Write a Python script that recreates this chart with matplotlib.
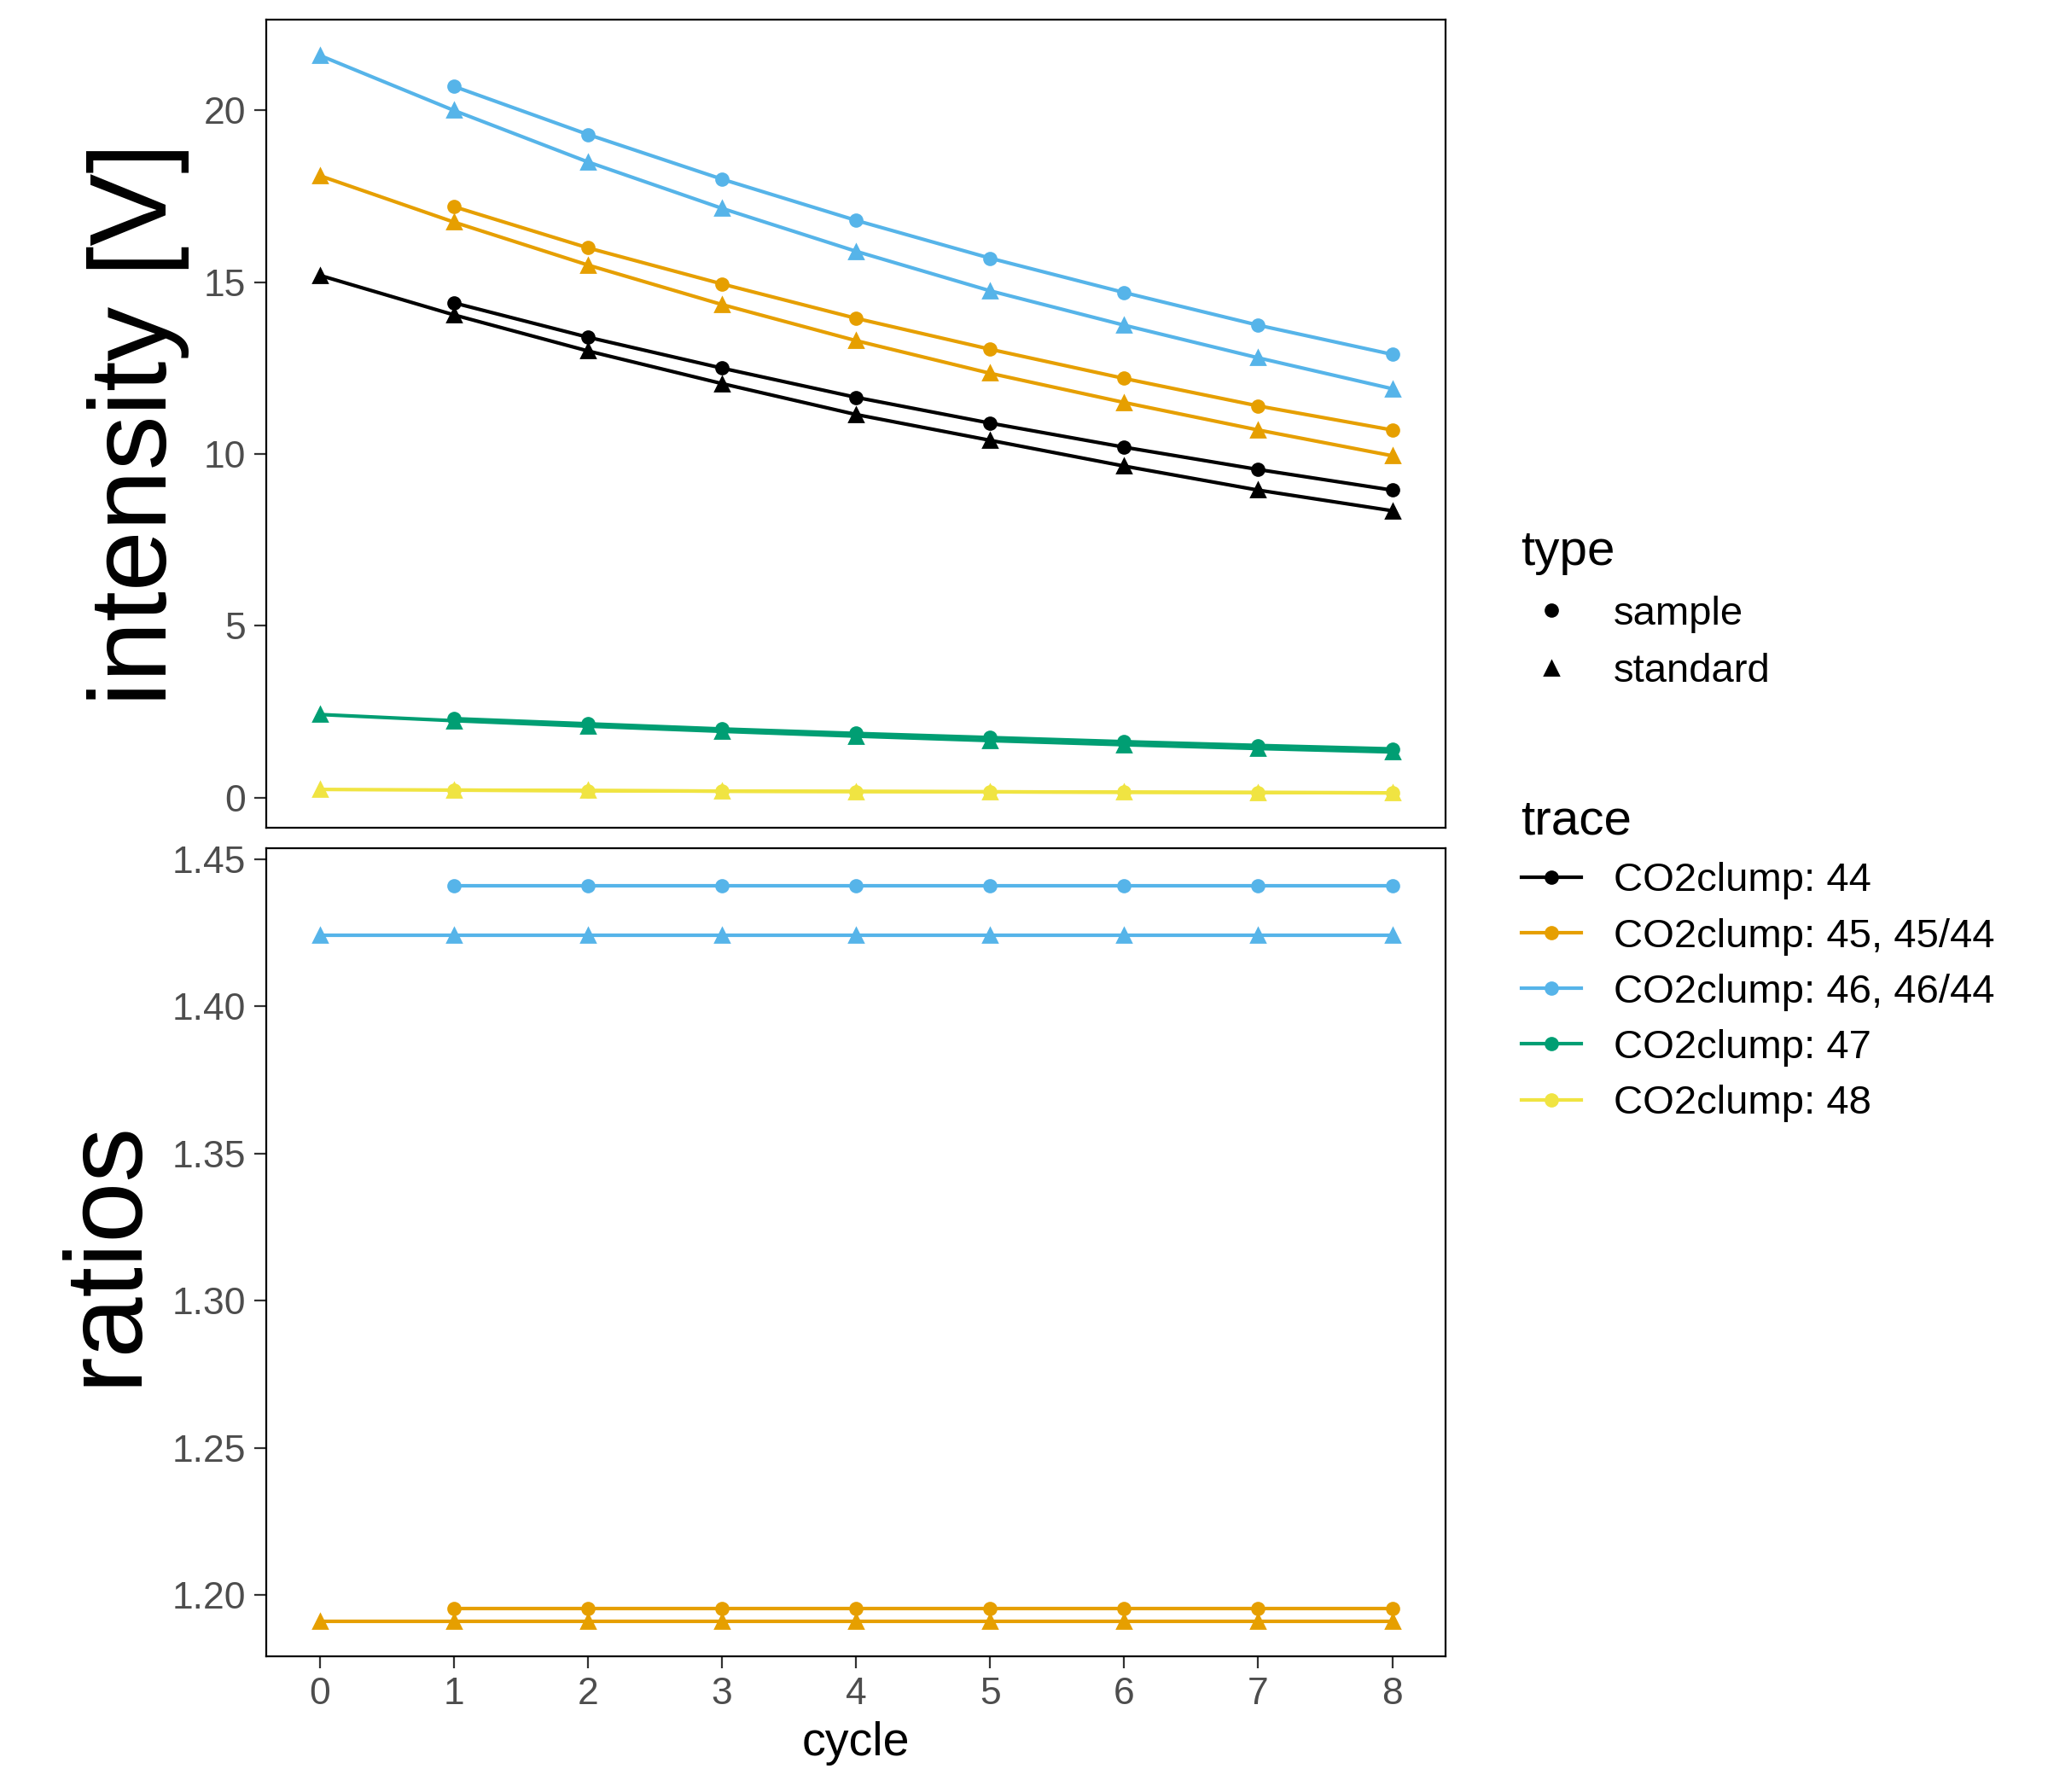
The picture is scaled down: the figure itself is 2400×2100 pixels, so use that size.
import numpy as np
import matplotlib.pyplot as plt
from matplotlib.lines import Line2D

plt.rcParams['font.family'] = ['Liberation Sans', 'DejaVu Sans']

cyc_sa = np.arange(1, 9)
cyc_st = np.arange(0, 9)
traces = ["CO2clump: 44", "CO2clump: 45, 45/44", "CO2clump: 46, 46/44",
          "CO2clump: 47", "CO2clump: 48"]
colors = ["#000000", "#E69F00", "#56B4E9", "#009E73", "#F0E442"]

sample = [
    [14.4, 13.4, 12.5, 11.65, 10.9, 10.2, 9.55, 8.95],
    [17.2, 16.0, 14.95, 13.95, 13.05, 12.2, 11.4, 10.7],
    [20.7, 19.3, 18.0, 16.8, 15.7, 14.7, 13.75, 12.9],
    [2.3, 2.15, 2.0, 1.87, 1.75, 1.63, 1.52, 1.42],
    [0.22, 0.2, 0.19, 0.18, 0.17, 0.16, 0.15, 0.14],
]
standard = [
    [15.2, 14.05, 13.0, 12.05, 11.15, 10.4, 9.65, 8.95, 8.35],
    [18.1, 16.75, 15.5, 14.35, 13.3, 12.35, 11.5, 10.7, 9.95],
    [21.6, 20.0, 18.5, 17.15, 15.9, 14.75, 13.75, 12.8, 11.9],
    [2.42, 2.24, 2.08, 1.93, 1.79, 1.66, 1.54, 1.43, 1.33],
    [0.24, 0.22, 0.21, 0.19, 0.18, 0.17, 0.16, 0.15, 0.14],
]
ratio_sa = {1: [1.1955] * 8, 2: [1.4410] * 8}
ratio_st = {1: [1.1911] * 9, 2: [1.4240] * 9}

fig = plt.figure(figsize=(12, 10.5), dpi=200)
ax1 = fig.add_axes([0.130, 0.538, 0.576, 0.451])
ax2 = fig.add_axes([0.130, 0.0755, 0.576, 0.451])

for i in range(5):
    ax1.plot(cyc_sa, sample[i], '-o', color=colors[i], ms=5, lw=1.5)
    ax1.plot(cyc_st, standard[i], '-^', color=colors[i], ms=6, lw=1.5)
for i in (1, 2):
    ax2.plot(cyc_sa, ratio_sa[i], '-o', color=colors[i], ms=5, lw=1.5)
    ax2.plot(cyc_st, ratio_st[i], '-^', color=colors[i], ms=6, lw=1.5)

ax1.set_ylim(-0.88, 22.64)
ax1.set_yticks([0, 5, 10, 15, 20])
ax2.set_ylim(1.179, 1.4536)
ax2.set_yticks([1.20, 1.25, 1.30, 1.35, 1.40, 1.45])
ax2.set_yticklabels(["1.20", "1.25", "1.30", "1.35", "1.40", "1.45"])
for ax in (ax1, ax2):
    ax.set_xlim(-0.4, 8.4)
    ax.set_xticks(range(9))
    ax.tick_params(labelsize=16, colors="#333333", length=5)
    ax.tick_params(labelcolor="#4d4d4d")
    for s in ax.spines.values():
        s.set_linewidth(0.8)
ax1.tick_params(axis='x', bottom=False, labelbottom=False)
ax1.set_ylabel("intensity [V]", fontsize=46, labelpad=6)
ax2.set_ylabel("ratios", fontsize=46, labelpad=6)
ax2.set_xlabel("cycle", fontsize=20)
fig.align_ylabels([ax1, ax2])

type_h = [Line2D([], [], ls='none', marker='o', color='k', ms=5),
          Line2D([], [], ls='none', marker='^', color='k', ms=6)]
fig.legend(type_h, ["sample", "standard"], title="type", loc="upper left",
           bbox_to_anchor=(0.725, 0.725), frameon=False, fontsize=17,
           title_fontsize=21, alignment="left", handlelength=1.5)
trace_h = [Line2D([], [], marker='o', color=c, ms=5, lw=1.5) for c in colors]
fig.legend(trace_h, traces, title="trace", loc="upper left",
           bbox_to_anchor=(0.725, 0.575), frameon=False, fontsize=17,
           title_fontsize=21, alignment="left", handlelength=1.5,
           labelspacing=0.45)

fig.savefig("out.png")
